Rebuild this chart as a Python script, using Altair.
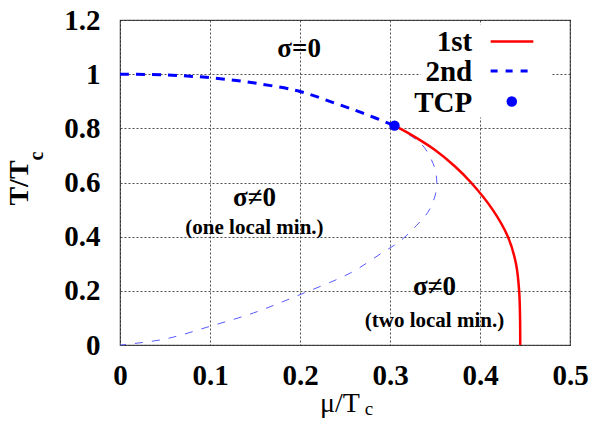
import altair as alt
import pandas as pd

# ---- data ----
# first-order transition line (red, solid)
mu_1st = [0.305, 0.320, 0.350, 0.372, 0.390, 0.414, 0.431, 0.440, 0.4435, 0.4445, 0.4447]
T_1st = [0.81, 0.783, 0.72, 0.66, 0.60, 0.50, 0.40, 0.30, 0.20, 0.10, 0.0]

# second-order transition line (blue, thick dashed)
mu_2nd = [0.0, 0.05, 0.1, 0.15, 0.2, 0.238, 0.27, 0.305]
T_2nd = [1.0, 0.997, 0.987, 0.967, 0.936, 0.894, 0.856, 0.81]

# thin dashed boundary (one / two local minima)
mu_thin = [0.305, 0.317, 0.329, 0.338, 0.346, 0.350, 0.352, 0.350, 0.342, 0.329, 0.311,
           0.291, 0.256, 0.2, 0.148, 0.1, 0.05, 0.0]
T_thin = [0.81, 0.785, 0.758, 0.73, 0.684, 0.65, 0.60, 0.55, 0.49, 0.44, 0.383,
          0.34, 0.266, 0.186, 0.118, 0.069, 0.022, 0.0]

# tricritical point
mu_tcp = [0.305]
T_tcp = [0.81]

# region annotations
ann_text = ["σ=0", "σ≠0", "(one local min.)", "σ≠0", "(two local min.)"]
ann_mu = [0.199, 0.1494, 0.1494, 0.3494, 0.3494]
ann_T = [1.094, 0.543, 0.432, 0.214, 0.087]
ann_size = [27, 27, 21, 27, 21]

# legend
leg_labels = ["1st", "2nd", "TCP"]
leg_T = [1.121, 1.012, 0.899]

x_ticks = [0, 0.1, 0.2, 0.3, 0.4, 0.5]
y_ticks = [0, 0.2, 0.4, 0.6, 0.8, 1.0, 1.2]

FONT = "Liberation Serif"

xs = alt.Scale(domain=[0, 0.5], nice=False, zero=False)
ys = alt.Scale(domain=[0, 1.2], nice=False, zero=False)

xax = alt.Axis(values=x_ticks, format="~g", title=None, grid=True, ticks=False, domain=False,
               labelFont=FONT, labelFontSize=29, labelFontWeight="bold", labelColor="black",
               labelPadding=16, gridColor="#222", gridDash=[2, 2], gridWidth=0.8,
               labelFlush=False)
yax = alt.Axis(values=y_ticks, format="~g", title=None, grid=True, ticks=False, domain=False,
               labelFont=FONT, labelFontSize=29, labelFontWeight="bold", labelColor="black",
               labelPadding=20, gridColor="#222", gridDash=[2, 2], gridWidth=0.8,
               labelFlush=False)

df1 = pd.DataFrame({"mu": mu_1st, "T": T_1st, "i": range(len(mu_1st))})
df2 = pd.DataFrame({"mu": mu_2nd, "T": T_2nd, "i": range(len(mu_2nd))})
dft = pd.DataFrame({"mu": mu_thin, "T": T_thin, "i": range(len(mu_thin))})
dfp = pd.DataFrame({"mu": mu_tcp, "T": T_tcp})
dfa = pd.DataFrame({"mu": ann_mu, "T": ann_T, "text": ann_text, "size": ann_size})
dfl = pd.DataFrame({"label": leg_labels, "T": leg_T})

base_axes = alt.Chart(pd.DataFrame({"mu": [0.0], "T": [0.0]})).mark_point(opacity=0).encode(
    x=alt.X("mu:Q", scale=xs, axis=xax),
    y=alt.Y("T:Q", scale=ys, axis=yax),
)

# white legend box hiding the grid
legbox = alt.Chart(pd.DataFrame({"x": [0.334], "x2": [0.479], "y": [0.84], "y2": [1.183]})).mark_rect(
    color="white").encode(
    x=alt.X("x:Q", scale=xs), x2="x2:Q", y=alt.Y("y:Q", scale=ys), y2="y2:Q")

thin = alt.Chart(dft).mark_line(color="#5a5aff", strokeWidth=1, strokeDash=[8, 9],
                                interpolate="catmull-rom").encode(
    x=alt.X("mu:Q", scale=xs), y=alt.Y("T:Q", scale=ys), order="i:Q")

second = alt.Chart(df2).mark_line(color="#0000ff", strokeWidth=3, strokeDash=[9, 7],
                                  interpolate="catmull-rom").encode(
    x=alt.X("mu:Q", scale=xs), y=alt.Y("T:Q", scale=ys), order="i:Q")

first = alt.Chart(df1).mark_line(color="#ff0000", strokeWidth=2.5,
                                 interpolate="catmull-rom").encode(
    x=alt.X("mu:Q", scale=xs), y=alt.Y("T:Q", scale=ys), order="i:Q")

tcp = alt.Chart(dfp).mark_circle(color="#0000ff", size=110, opacity=1).encode(
    x=alt.X("mu:Q", scale=xs), y=alt.Y("T:Q", scale=ys))

ann = alt.Chart(dfa).mark_text(font=FONT, fontWeight="bold", color="black",
                               align="center", baseline="middle").encode(
    x=alt.X("mu:Q", scale=xs), y=alt.Y("T:Q", scale=ys), text="text:N",
    size=alt.Size("size:Q", scale=None, legend=None))

# legend pieces
leg_text = alt.Chart(dfl).mark_text(font=FONT, fontWeight="bold", fontSize=29, color="black",
                                    align="right", baseline="middle", dy=1).encode(
    x=alt.datum(0.3913, scale=xs), y=alt.Y("T:Q", scale=ys), text="label:N")

leg_red = alt.Chart(dfl.iloc[[0]]).mark_rule(color="#ff0000", strokeWidth=2.5).encode(
    x=alt.datum(0.4118, scale=xs), x2=alt.datum(0.4593), y=alt.Y("T:Q", scale=ys))
leg_blue = alt.Chart(dfl.iloc[[1]]).mark_rule(color="#0000ff", strokeWidth=3,
                                              strokeDash=[7, 8]).encode(
    x=alt.datum(0.4118, scale=xs), x2=alt.datum(0.4593), y=alt.Y("T:Q", scale=ys))
leg_dot = alt.Chart(dfl.iloc[[2]]).mark_circle(color="#0000ff", size=110, opacity=1).encode(
    x=alt.datum(0.4353, scale=xs), y=alt.Y("T:Q", scale=ys))

# axis titles with subscripts
title_df = pd.DataFrame({"k": [0]})
ytitle = alt.Chart(title_df).mark_text(font=FONT, fontWeight="bold", fontSize=28, angle=270,
                                       align="center", baseline="middle", color="black").encode(
    x=alt.value(-100), y=alt.value(163), text=alt.value("T/T"))
ysub = alt.Chart(title_df).mark_text(font=FONT, fontWeight="bold", fontSize=20, angle=270,
                                     align="center", baseline="middle", color="black").encode(
    x=alt.value(-83), y=alt.value(136), text=alt.value("c"))
xtitle = alt.Chart(title_df).mark_text(font=FONT, fontSize=28, align="center",
                                       baseline="alphabetic", color="black").encode(
    x=alt.value(220), y=alt.value(392), text=alt.value("μ/T"))
xsub = alt.Chart(title_df).mark_text(font=FONT, fontSize=19, align="center",
                                     baseline="alphabetic", color="black").encode(
    x=alt.value(249), y=alt.value(395), text=alt.value("c"))

chart = alt.layer(
    base_axes, legbox, thin, second, first, tcp, ann,
    leg_text, leg_red, leg_blue, leg_dot, ytitle, ysub, xtitle, xsub
).properties(
    width=450, height=325,
    autosize=alt.AutoSizeParams(type="none"),
    padding={"left": 120, "top": 20, "right": 22, "bottom": 76},
    background="white",
).configure_view(stroke="#555", strokeWidth=1.2)

chart.save("out.html", embed_options={"renderer": "svg", "actions": False})
